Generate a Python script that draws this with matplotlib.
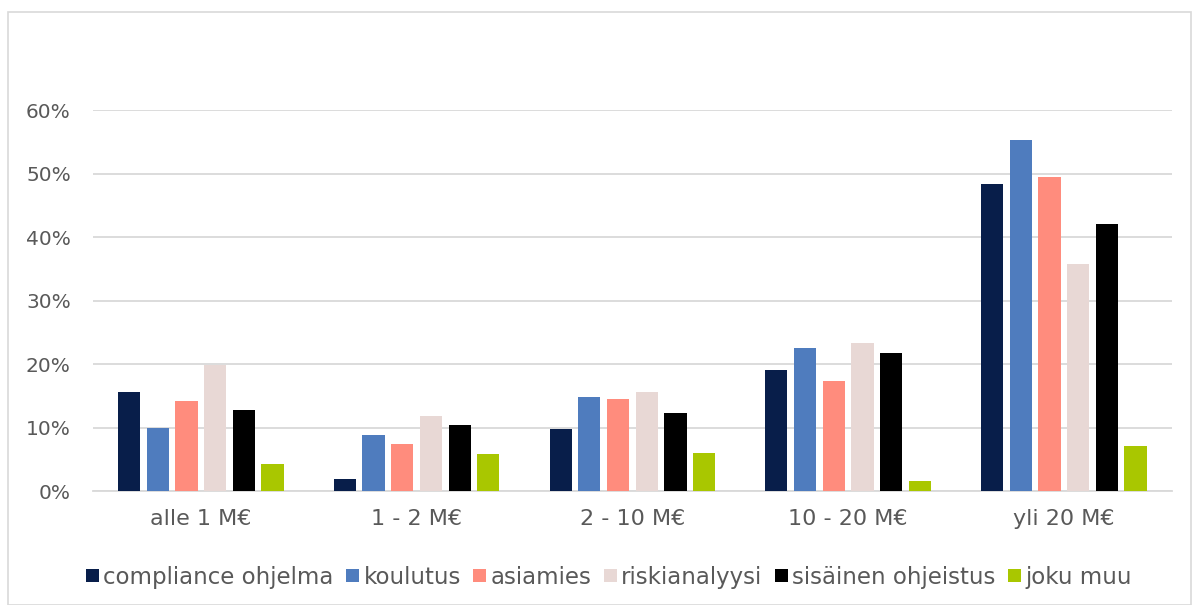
import numpy as np
import matplotlib.pyplot as plt
from matplotlib.patches import Rectangle

categories = ['alle 1 M€', '1 - 2 M€', '2 - 10 M€', '10 - 20 M€', 'yli 20 M€']
series = ['compliance ohjelma', 'koulutus', 'asiamies', 'riskianalyysi',
          'sisäinen ohjeistus', 'joku muu']
compliance = [15.6, 2.0, 9.8, 19.1, 48.4]
koulutus = [9.9, 8.8, 14.8, 22.5, 55.3]
asiamies = [14.2, 7.4, 14.6, 17.3, 49.4]
riskianalyysi = [19.8, 11.8, 15.7, 23.3, 35.7]
ohjeistus = [12.8, 10.4, 12.3, 21.7, 42.0]
muu = [4.3, 5.8, 6.0, 1.6, 7.2]
values = [compliance, koulutus, asiamies, riskianalyysi, ohjeistus, muu]
colors = ['#081E4A', '#4F7CBE', '#FF8C7D', '#E8D8D5', '#000000', '#A9C700']

plt.rcParams['font.family'] = ['DejaVu Sans']

fig = plt.figure(figsize=(11.92, 6.05), dpi=100)
ax = fig.add_axes([0.078, 0.188, 0.905, 0.630])

x = np.arange(len(categories))
width = 0.103
step = 0.133
for i, (name, vals) in enumerate(zip(series, values)):
    offs = (i - 2.5) * step
    ax.bar(x + offs, np.array(vals) / 100, width, color=colors[i], label=name,
           zorder=3)

ax.set_xlim(-0.5, len(categories) - 0.5)
ax.set_ylim(0, 0.6)
ax.set_yticks(np.arange(0, 0.61, 0.1))
ax.set_yticklabels([f'{int(round(v * 100))}%' for v in np.arange(0, 0.61, 0.1)])
ax.set_xticks(x)
ax.set_xticklabels(categories)
ax.grid(axis='y', color='#D9D9D9', linewidth=1.3, zorder=0)
for s in ['top', 'right', 'left']:
    ax.spines[s].set_visible(False)
ax.spines['bottom'].set_color('#D9D9D9')
ax.spines['bottom'].set_linewidth(1.3)
ax.tick_params(axis='both', length=0, labelcolor='#595959')
ax.tick_params(axis='y', pad=16, labelsize=14.5)
ax.tick_params(axis='x', pad=13, labelsize=16)

leg = fig.legend(loc='center', bbox_to_anchor=(0.511, 0.046), ncol=6, frameon=False,
                 fontsize=16.5, handlelength=0.55, handleheight=0.55,
                 handletextpad=0.2, columnspacing=0.55)
for t in leg.get_texts():
    t.set_color('#595959')

fig.patches.append(Rectangle((8 / 1192, 0), 1 - 9 / 1192, 1 - 12 / 605,
                             transform=fig.transFigure, fill=False,
                             edgecolor='#D9D9D9', linewidth=1.2))

fig.savefig('out.png', dpi=100)
